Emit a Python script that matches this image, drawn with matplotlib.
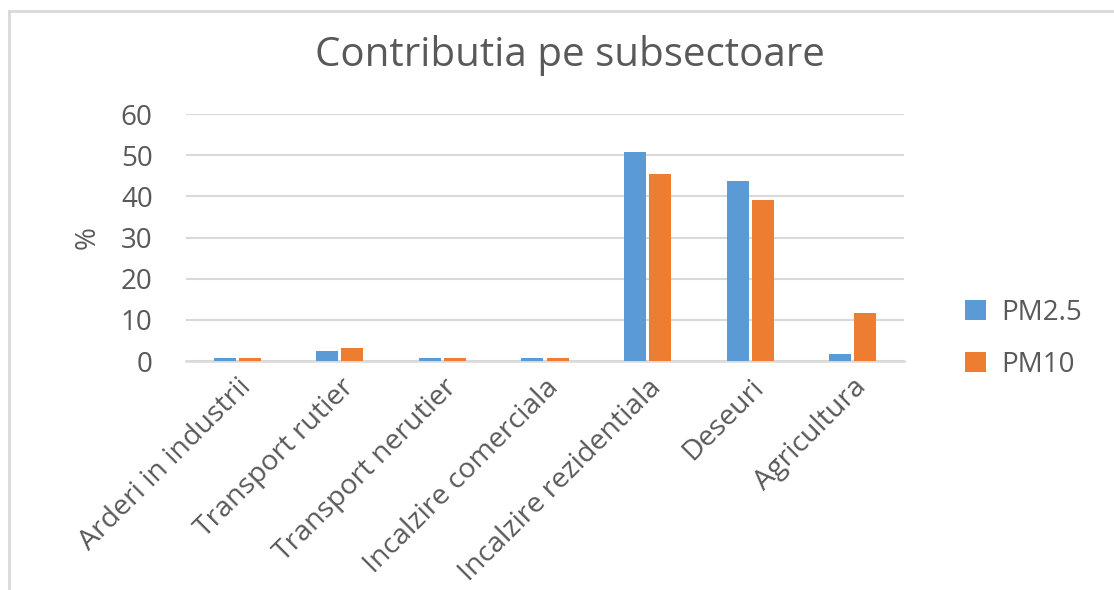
import numpy as np
import matplotlib.pyplot as plt
from matplotlib.lines import Line2D

categories = ['Arderi in industrii', 'Transport rutier', 'Transport nerutier',
              'Incalzire comerciala', 'Incalzire rezidentiala', 'Deseuri', 'Agricultura']
pm25 = [0.7, 2.5, 0.7, 0.7, 50.8, 43.8, 1.8]
pm10 = [0.7, 3.1, 0.7, 0.7, 45.5, 39.1, 11.7]
yticks = [0, 10, 20, 30, 40, 50, 60]

plt.rcParams['font.family'] = ['Open Sans', 'DejaVu Sans']
txt = '#595959'
grid = '#d9d9d9'

fig = plt.figure(figsize=(11.14, 5.9), dpi=100)
ax = fig.add_axes([186/1114, 1 - 361/590, 718/1114, 247/590])

x = np.arange(len(categories))
w = 0.215
off = 0.245
ax.bar(x - off/2, pm25, w, color='#5b9bd5', label='PM2.5', zorder=3)
ax.bar(x + off/2, pm10, w, color='#ed7d31', label='PM10', zorder=3)

ax.set_xlim(-0.5, len(categories) - 0.5)
ax.set_ylim(0, 60)
ax.set_yticks(yticks)
ax.set_yticklabels([str(t) for t in yticks], fontsize=20, color=txt)
ax.yaxis.grid(True, color=grid, linewidth=1.5, zorder=0)
ax.tick_params(axis='y', length=0, pad=24)
ax.tick_params(axis='x', length=0, pad=9)
ax.set_xticks(x)
ax.set_xticklabels(categories, rotation=45, ha='right', va='top',
                   rotation_mode='anchor', fontsize=20.5, color=txt)
for s in ['top', 'right', 'left']:
    ax.spines[s].set_visible(False)
ax.spines['bottom'].set_color(grid)
ax.spines['bottom'].set_linewidth(1.8)

ax.set_ylabel('%', fontsize=20, color=txt, labelpad=14)

fig.text(570/1114, 1 - 56/590, 'Contributia pe subsectoare', fontsize=29,
         color=txt, ha='center', va='center')

ax.legend(loc='center left', bbox_to_anchor=((965 - 186)/718, 0.09), frameon=False,
          borderpad=0, borderaxespad=0,
          fontsize=20, labelcolor=txt, handlelength=0.75, handleheight=0.75,
          handletextpad=0.55, labelspacing=0.85)

# chart border
fig.add_artist(Line2D([9/1114, 9/1114], [0, 1 - 11/590], transform=fig.transFigure,
                      color=grid, linewidth=2))
fig.add_artist(Line2D([9/1114, 1], [1 - 11/590, 1 - 11/590], transform=fig.transFigure,
                      color=grid, linewidth=2))

fig.savefig('out.png', dpi=100)
